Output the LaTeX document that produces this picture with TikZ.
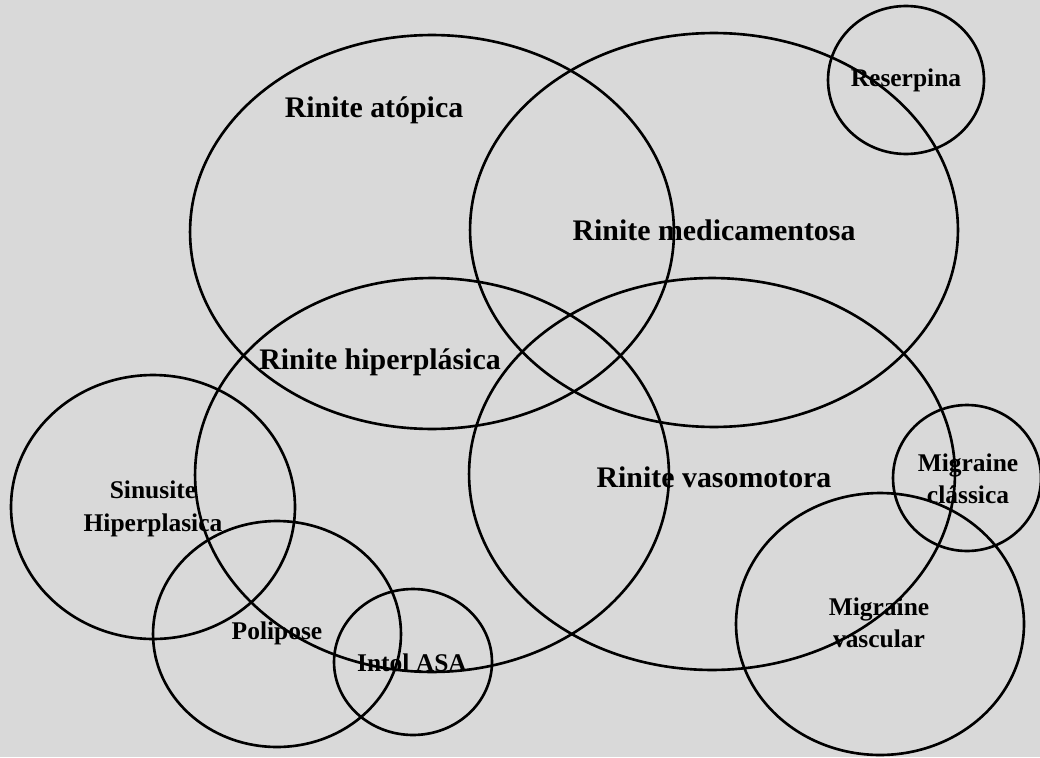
\documentclass[tikz,border=0pt]{standalone}
\usepackage{fontspec}
\setmainfont{Liberation Serif}
\usepackage{tikz}
\usetikzlibrary{shapes.geometric}

\begin{document}
\begin{tikzpicture}[
  x=0.02cm, y=-0.02cm,
  ring/.style={draw, ellipse, line width=1.5pt, inner sep=0pt},
  biglbl/.style={font=\bfseries\fontsize{17}{20}\selectfont, inner sep=1pt},
  smalllbl/.style={font=\bfseries\fontsize{14.5}{18.5}\selectfont, align=center, inner sep=1pt},
]
  % background
  \fill[black!15] (0,0) rectangle (1040,757);
  \useasboundingbox (0,0) rectangle (1040,757);

  % the four large rhinitis sets
  \node[ring, minimum width=9.68cm, minimum height=7.88cm] (atopica) at (432,232) {};
  \node[ring, minimum width=9.76cm, minimum height=7.88cm] (medic)   at (714,230) {};
  \node[ring, minimum width=9.48cm, minimum height=7.88cm] (hiper)   at (432,475) {};
  \node[ring, minimum width=9.72cm, minimum height=7.84cm] (vaso)    at (712,474) {};

  % smaller sets
  \node[ring, minimum width=3.12cm, minimum height=2.96cm] (reserp)  at (906,80)  {};
  \node[ring, minimum width=5.68cm, minimum height=5.28cm] (sinus)   at (153,507) {};
  \node[ring, minimum width=4.96cm, minimum height=4.52cm] (polip)   at (277,634) {};
  \node[ring, minimum width=3.16cm, minimum height=2.92cm] (asa)     at (413,662) {};
  \node[ring, minimum width=2.96cm, minimum height=2.92cm] (classic) at (967,478) {};
  \node[ring, minimum width=5.76cm, minimum height=5.24cm] (vascul)  at (880,624) {};

  % labels
  \node[biglbl] (tatopica) at (374,110) {Rinite atópica};
  \node[biglbl] (tmedic)   at (714,230) {Rinite medicamentosa};
  \node[biglbl] (thiper)   at (380,362) {Rinite hiperplásica};
  \node[biglbl] (tvaso)    at (714,477) {Rinite vasomotora};
  \node[smalllbl] (treserp)  at (906,80)  {Reserpina};
  \node[smalllbl] (tsinus)   at (153,509) {Sinusite\\Hiperplasica};
  \node[smalllbl] (tpolip)   at (277,633) {Polipose};
  \node[smalllbl] (tasa)     at (412,663) {Intol ASA};
  \node[smalllbl] (tclassic) at (968,479) {Migraine\\clássica};
  \node[smalllbl] (tvascul)  at (879,623) {Migraine\\vascular};
\end{tikzpicture}
\end{document}
